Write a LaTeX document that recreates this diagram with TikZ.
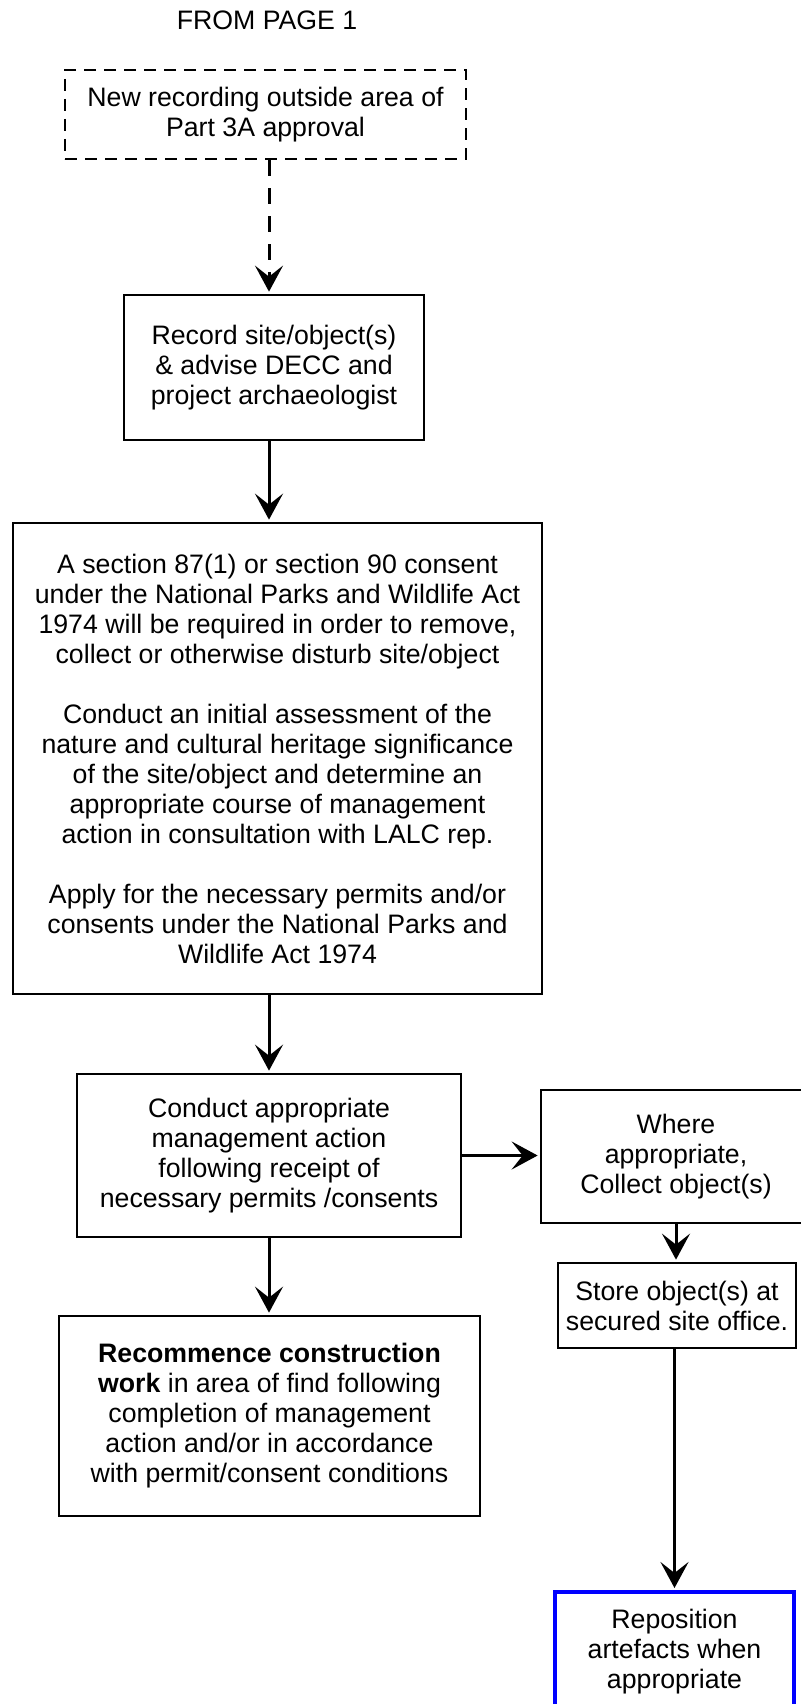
\documentclass[tikz,border=0pt]{standalone}
\usepackage{fontspec}
\setmainfont{Liberation Sans}
\usetikzlibrary{arrows.meta,positioning}
\definecolor{repblue}{HTML}{0000FF}

\begin{document}
\begin{tikzpicture}[x=1pt,y=-1pt,
    txt/.style={font=\fontsize{26.7}{30}\selectfont},
    box/.style={txt,draw,line width=2.7pt,inner sep=0pt,align=center},
    dashbox/.style={box,dash pattern=on 12pt off 8pt},
    bluebox/.style={box,draw=repblue,line width=4pt},
    flow/.style={line width=3pt,shorten >=2pt,-{Stealth[length=26pt,width=28pt,inset=11pt]}}]
  \useasboundingbox (0,0) rectangle (800,1704);
  \node[txt] (frompage) at (267,20) {FROM PAGE 1};
  \node[dashbox,minimum width=401pt,minimum height=89pt] (newrec) at (265.5,114.5)
    {New recording outside area of\\Part 3A approval};
  \node[box,minimum width=300pt,minimum height=145pt] (record) at (274,367.5)
    {Record site/object(s)\\\& advise DECC and\\project archaeologist};
  \node[box,minimum width=529pt,minimum height=471pt] (consent) at (277.5,758.5)
    {A section 87(1) or section 90 consent\\
     under the National Parks and Wildlife Act\\
     1974 will be required in order to remove,\\
     collect or otherwise disturb site/object\\[30pt]
     Conduct an initial assessment of the\\
     nature and cultural heritage significance\\
     of the site/object and determine an\\
     appropriate course of management\\
     action in consultation with LALC rep.\\[30pt]
     Apply for the necessary permits and/or\\
     consents under the National Parks and\\
     Wildlife Act 1974};
  \node[box,minimum width=384pt,minimum height=163pt] (conduct) at (269,1155.5)
    {Conduct appropriate\\management action\\following receipt of\\necessary permits /consents};
  \node[box,minimum width=270pt,minimum height=133pt] (collect) at (676,1156.5)
    {Where\\appropriate,\\Collect object(s)};
  \node[box,minimum width=238pt,minimum height=85pt] (store) at (677,1305.5)
    {Store object(s) at\\secured site office.};
  \node[box,minimum width=421pt,minimum height=200pt] (recommence) at (269.5,1416)
    {\textbf{Recommence construction}\\\textbf{work} in area of find following\\completion of management\\action and/or in accordance\\with permit/consent conditions};
  \node[bluebox,minimum width=239pt,minimum height=120pt] (reposition) at (674.5,1652)
    {Reposition\\artefacts when\\appropriate};
  \coordinate (spine) at (269,0);
  \draw[flow,dash pattern=on 16pt off 12pt] (newrec.south -| spine) -- (record.north -| spine);
  \draw[flow] (record.south -| spine) -- (consent.north -| spine);
  \draw[flow] (consent.south -| spine) -- (conduct.north -| spine);
  \draw[flow] (conduct.south -| spine) -- (recommence.north -| spine);
  \draw[flow] (conduct.east) -- (collect.west |- conduct.east);
  \draw[flow] (collect.south) -- (collect.south |- store.north);
  \draw[flow] (store.south -| reposition.north) -- (reposition.north);
\end{tikzpicture}
\end{document}
